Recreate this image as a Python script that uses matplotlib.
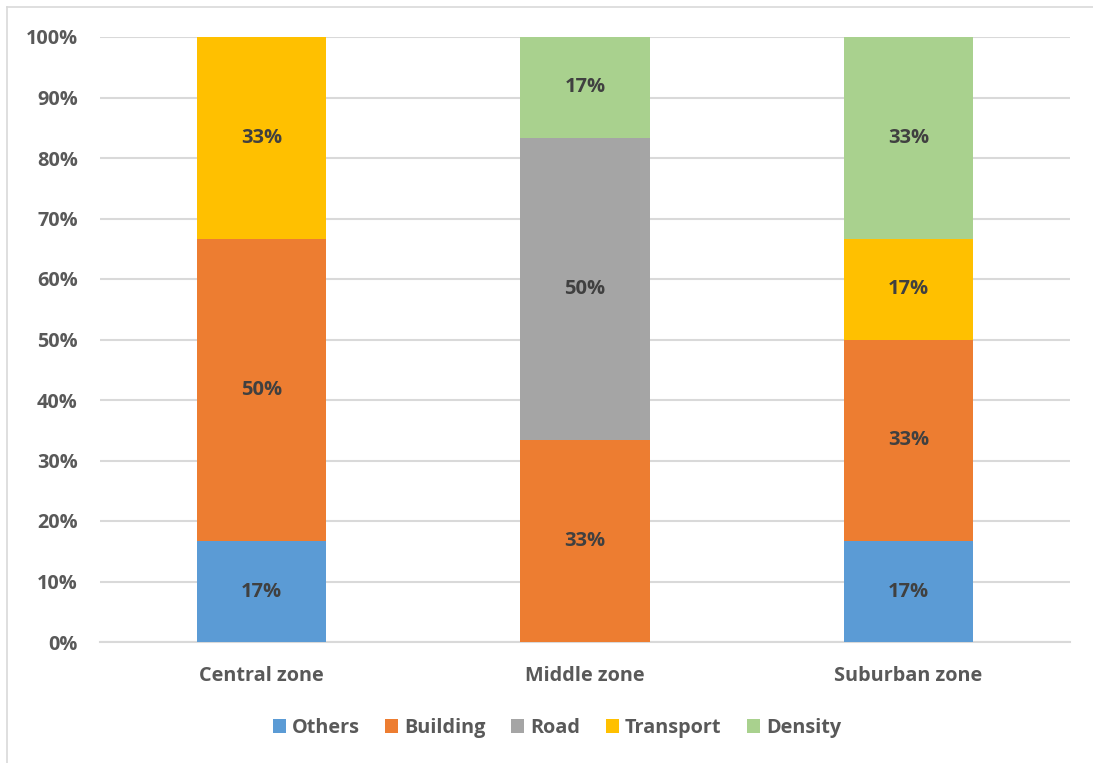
import matplotlib
matplotlib.use("Agg")
import matplotlib.pyplot as plt
from matplotlib.lines import Line2D
import numpy as np

FONT = ['Open Sans', 'DejaVu Sans']
plt.rcParams['font.family'] = FONT
plt.rcParams['font.weight'] = 'bold'

zones = ["Central zone", "Middle zone", "Suburban zone"]
series_names = ["Others", "Building", "Road", "Transport", "Density"]
others = [16.67, 0.0, 16.67]
building = [50.0, 33.33, 33.33]
road = [0.0, 50.0, 0.0]
transport = [33.33, 0.0, 16.67]
density = [0.0, 16.67, 33.33]
colors = ["#5B9BD5", "#ED7D31", "#A5A5A5", "#FFC000", "#A9D18E"]
y_ticks = [0, 10, 20, 30, 40, 50, 60, 70, 80, 90, 100]

fig = plt.figure(figsize=(10.93, 7.63), dpi=100)
ax = fig.add_axes([100 / 1093, 1 - 642 / 763, 970 / 1093, 605 / 763])

x = np.arange(len(zones))
bottom = np.zeros(len(zones))
for name, vals, col in zip(series_names, [others, building, road, transport, density], colors):
    vals = np.array(vals)
    ax.bar(x, vals, 0.40, bottom=bottom, color=col, label=name, zorder=3)
    for xi, v, b in zip(x, vals, bottom):
        if v > 0:
            ax.text(xi, b + v / 2, f"{v:.0f}%", ha="center", va="center",
                    fontsize=14.5, fontweight="bold", color="#404040", zorder=4)
    bottom += vals

ax.set_xlim(-0.5, 2.5)
ax.set_ylim(0, 100)
ax.set_yticks(y_ticks)
ax.set_yticklabels([f"{t}%" for t in y_ticks])
ax.set_xticks(x)
ax.set_xticklabels(zones)
ax.tick_params(axis="both", length=0, labelsize=14.3, labelcolor="#595959")
ax.tick_params(axis="y", pad=16)
ax.tick_params(axis="x", pad=17)
for lab in ax.get_xticklabels() + ax.get_yticklabels():
    lab.set_fontweight("bold")
ax.grid(axis="y", color="#D9D9D9", linewidth=1.5, zorder=0)
for s in ["top", "right", "left"]:
    ax.spines[s].set_visible(False)
ax.spines["bottom"].set_color("#D9D9D9")
ax.spines["bottom"].set_linewidth(1.5)
ax.spines["bottom"].set_zorder(2)

leg = fig.legend(loc="center", bbox_to_anchor=(557 / 1093, 1 - 728 / 763), ncol=5,
                 frameon=False, handlelength=0.65, handleheight=0.65,
                 handletextpad=0.3, columnspacing=1.3,
                 prop={"family": FONT, "weight": "bold", "size": 14.3})
for t in leg.get_texts():
    t.set_color("#595959")

# chart frame
fig.add_artist(Line2D([7 / 1093, 7 / 1093], [0, 1 - 7 / 763], transform=fig.transFigure,
                      color="#D9D9D9", linewidth=1.2))
fig.add_artist(Line2D([7 / 1093, 1], [1 - 7 / 763, 1 - 7 / 763], transform=fig.transFigure,
                      color="#D9D9D9", linewidth=1.2))

fig.savefig("out.png", dpi=100)
